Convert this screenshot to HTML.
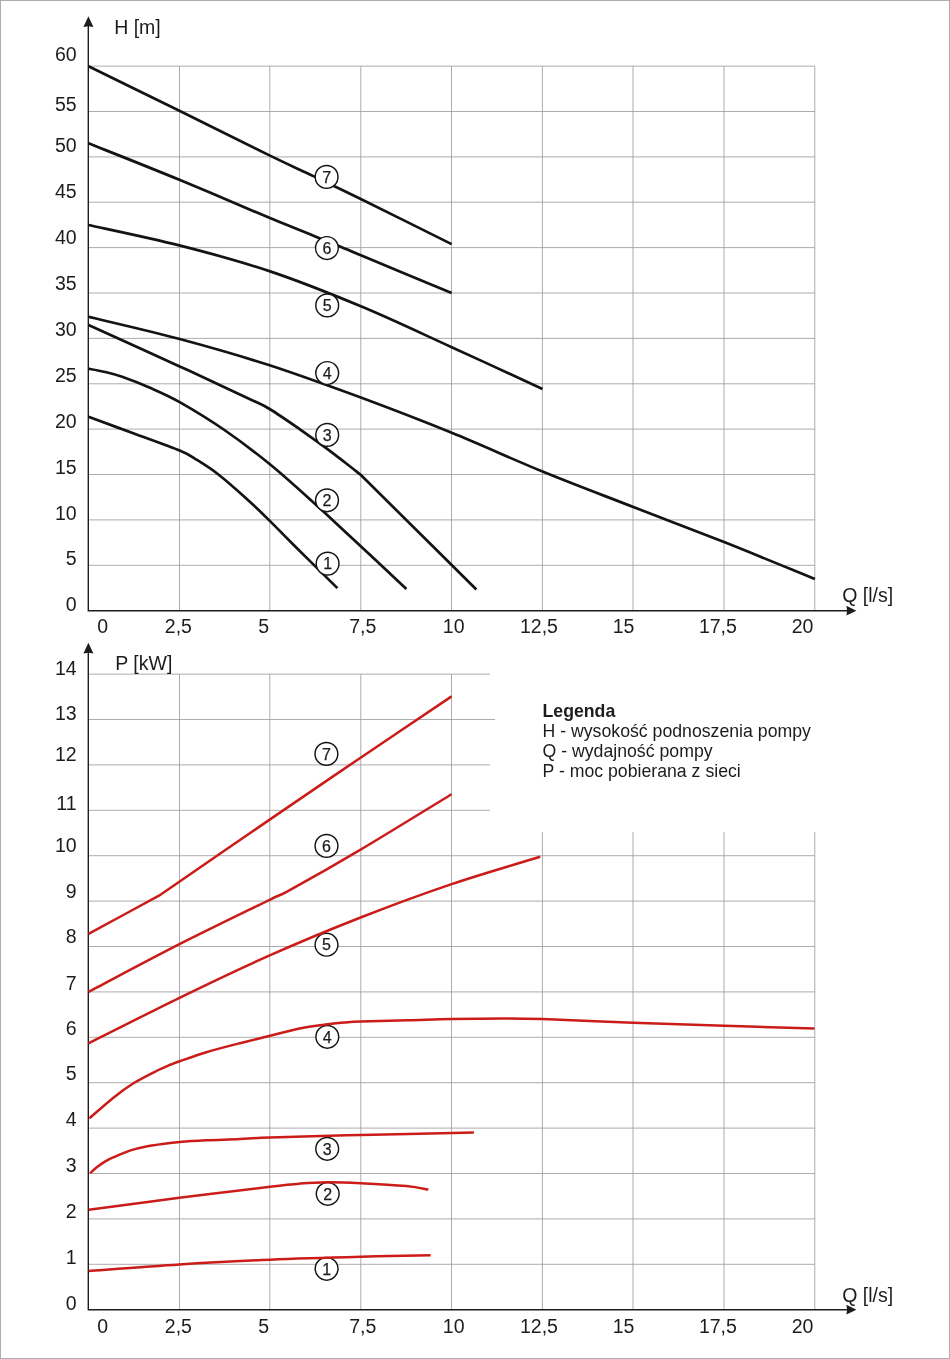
<!DOCTYPE html>
<html lang="pl">
<head>
<meta charset="utf-8">
<title>Charakterystyki pomp</title>
<style>
html,body{margin:0;padding:0;background:#fff;}
body{width:950px;height:1359px;overflow:hidden;}
svg{display:block;}
text{font-family:"Liberation Sans",Arial,Helvetica,sans-serif;fill:#1f1b1c;}
.g line{stroke:#9d9d9d;stroke-width:0.85;}
.ax{stroke:#1f1b1c;stroke-width:1.4;fill:none;}
.k{stroke:#161213;stroke-width:2.7;fill:none;stroke-linecap:butt;stroke-linejoin:round;}
.r{stroke:#cb1c19;stroke-width:2.5;fill:none;stroke-linecap:butt;stroke-linejoin:round;}
.c circle{fill:#fff;stroke:#161213;stroke-width:1.45;}
.c text{font-size:16px;text-anchor:middle;stroke:#1f1b1c;stroke-width:0.25;}
.t{font-size:19.5px;}
.m{text-anchor:middle;}
.e{text-anchor:end;}
.lg{font-size:17.7px;}
</style>
</head>
<body>
<svg width="950" height="1359" viewBox="0 0 950 1359">
<rect x="0" y="0" width="950" height="1359" fill="#fff"/>
<rect x="0.5" y="0.5" width="949" height="1358" fill="none" stroke="#adadad" stroke-width="1"/>
<g class="g">
<line x1="179.5" y1="66.1" x2="179.5" y2="610.7"/>
<line x1="269.8" y1="66.1" x2="269.8" y2="610.7"/>
<line x1="360.8" y1="66.1" x2="360.8" y2="610.7"/>
<line x1="451.5" y1="66.1" x2="451.5" y2="610.7"/>
<line x1="542.4" y1="66.1" x2="542.4" y2="610.7"/>
<line x1="633.0" y1="66.1" x2="633.0" y2="610.7"/>
<line x1="724.0" y1="66.1" x2="724.0" y2="610.7"/>
<line x1="814.8" y1="66.1" x2="814.8" y2="610.7"/>
<line x1="88.5" y1="66.1" x2="814.8" y2="66.1"/>
<line x1="88.5" y1="111.5" x2="814.8" y2="111.5"/>
<line x1="88.5" y1="156.9" x2="814.8" y2="156.9"/>
<line x1="88.5" y1="202.2" x2="814.8" y2="202.2"/>
<line x1="88.5" y1="247.6" x2="814.8" y2="247.6"/>
<line x1="88.5" y1="293.0" x2="814.8" y2="293.0"/>
<line x1="88.5" y1="338.4" x2="814.8" y2="338.4"/>
<line x1="88.5" y1="383.8" x2="814.8" y2="383.8"/>
<line x1="88.5" y1="429.1" x2="814.8" y2="429.1"/>
<line x1="88.5" y1="474.5" x2="814.8" y2="474.5"/>
<line x1="88.5" y1="519.9" x2="814.8" y2="519.9"/>
<line x1="88.5" y1="565.3" x2="814.8" y2="565.3"/>
</g>
<path class="ax" d="M88.3 24 V610.7 H850"/>
<path d="M88.4 16.3 L93.4 27.1 L88.4 26.3 L83.4 27.1 Z" fill="#1f1b1c"/>
<path d="M856.4 610.7 L846.4 605.8 L847.1 610.7 L846.4 615.6 Z" fill="#1f1b1c"/>
<path class="k" d="M88.5 66.2 C103.7 73.6 149.2 95.9 179.4 110.8 C209.7 125.7 247.6 144.7 270.0 155.6 C292.4 166.5 298.9 169.2 314.0 176.4 C329.1 183.6 337.9 187.7 360.8 199.0 C383.7 210.3 436.5 236.6 451.6 244.1"/>
<path class="k" d="M88.5 143.3 C103.7 149.4 149.2 167.3 179.4 179.8 C209.7 192.3 243.2 207.0 270.0 218.1 C296.8 229.2 324.9 240.2 340.0 246.4 C355.1 252.6 342.3 247.5 360.9 255.3 C379.5 263.1 436.5 286.7 451.6 293.0"/>
<path class="k" d="M88.5 225.0 C103.6 228.4 149.0 237.7 179.3 245.4 C209.6 253.1 239.8 261.2 270.1 271.4 C300.4 281.5 330.6 293.7 360.9 306.3 C391.2 318.9 421.4 333.4 451.7 347.2 C482.0 361.0 527.4 382.0 542.5 389.0"/>
<path class="k" d="M88.5 316.8 C103.7 320.5 149.5 330.9 179.7 339.0 C209.9 347.1 239.4 355.5 269.6 365.3 C299.8 375.1 330.5 386.4 360.9 397.6 C391.2 408.9 421.4 420.5 451.7 432.8 C482.0 445.1 512.2 459.1 542.5 471.5 C572.8 483.9 603.0 495.2 633.3 507.0 C663.6 518.8 693.8 530.1 724.1 542.1 C754.4 554.1 799.8 572.9 814.9 579.0"/>
<path class="k" d="M88.5 324.9 C103.7 331.8 152.8 354.0 179.7 366.4 C206.6 378.8 235.0 392.1 250.0 399.2 C265.0 406.3 261.3 404.0 269.6 409.0 C277.9 414.0 290.5 422.8 299.9 429.3 C309.3 435.8 318.3 442.4 325.8 447.9 C333.3 453.4 339.1 458.0 345.0 462.5 C350.9 467.0 358.2 472.9 360.9 475.0 C380.1 494.1 457.1 570.4 476.4 589.5"/>
<path class="k" d="M88.5 368.7 C91.3 369.2 99.7 370.6 105.3 372.0 C110.9 373.4 114.6 374.2 122.1 376.8 C129.5 379.4 140.4 383.6 150.0 387.8 C159.6 392.0 167.4 395.2 179.7 402.1 C192.0 409.1 208.7 419.2 223.7 429.5 C238.7 439.8 254.2 451.5 269.6 464.0 C285.0 476.5 302.5 492.6 315.9 504.7 C329.3 516.8 334.9 522.3 350.0 536.3 C365.1 550.3 397.0 580.1 406.4 588.9"/>
<path class="k" d="M88.5 416.8 C96.1 419.6 118.7 427.9 133.9 433.5 C149.1 439.1 169.1 446.1 179.7 450.5 C190.3 454.9 190.9 456.2 197.4 460.2 C203.9 464.2 210.2 468.1 218.4 474.5 C226.6 480.9 238.2 491.2 246.8 498.9 C255.4 506.6 262.1 513.3 269.8 520.9 C277.5 528.5 281.9 533.3 293.2 544.5 C304.5 555.7 330.0 580.8 337.4 588.1"/>
<g class="c">
<circle cx="326.6" cy="176.9" r="11.4"/><text x="326.6" y="182.6">7</text>
<circle cx="326.9" cy="248.0" r="11.4"/><text x="326.9" y="253.7">6</text>
<circle cx="327.2" cy="305.4" r="11.4"/><text x="327.2" y="311.1">5</text>
<circle cx="327.2" cy="373.0" r="11.4"/><text x="327.2" y="378.7">4</text>
<circle cx="327.2" cy="434.9" r="11.4"/><text x="327.2" y="440.6">3</text>
<circle cx="327.0" cy="500.3" r="11.4"/><text x="327.0" y="506.0">2</text>
<circle cx="327.6" cy="563.6" r="11.4"/><text x="327.6" y="569.3">1</text>
</g>
<g class="t e">
<text x="76.6" y="61">60</text>
<text x="76.6" y="111">55</text>
<text x="76.6" y="152">50</text>
<text x="76.6" y="198">45</text>
<text x="76.6" y="244">40</text>
<text x="76.6" y="290">35</text>
<text x="76.6" y="336">30</text>
<text x="76.6" y="382">25</text>
<text x="76.6" y="428">20</text>
<text x="76.6" y="474">15</text>
<text x="76.6" y="520">10</text>
<text x="76.6" y="565">5</text>
<text x="76.6" y="611">0</text>
</g>
<g class="t m">
<text x="102.6" y="633">0</text>
<text x="178.4" y="633">2,5</text>
<text x="263.7" y="633">5</text>
<text x="362.7" y="633">7,5</text>
<text x="453.7" y="633">10</text>
<text x="539.0" y="633">12,5</text>
<text x="623.5" y="633">15</text>
<text x="717.9" y="633">17,5</text>
<text x="802.5" y="633">20</text>
</g>
<text class="t" x="114.2" y="34">H [m]</text>
<text class="t" x="842.2" y="602">Q [l/s]</text>
<g class="g">
<line x1="179.5" y1="674.1" x2="179.5" y2="1309.7"/>
<line x1="269.8" y1="674.1" x2="269.8" y2="1309.7"/>
<line x1="360.8" y1="674.1" x2="360.8" y2="1309.7"/>
<line x1="451.5" y1="674.1" x2="451.5" y2="1309.7"/>
<line x1="542.4" y1="832.0" x2="542.4" y2="1309.7"/>
<line x1="633.0" y1="832.0" x2="633.0" y2="1309.7"/>
<line x1="724.0" y1="832.0" x2="724.0" y2="1309.7"/>
<line x1="814.8" y1="832.0" x2="814.8" y2="1309.7"/>
<line x1="88.5" y1="674.1" x2="490.0" y2="674.1"/>
<line x1="88.5" y1="719.5" x2="495.0" y2="719.5"/>
<line x1="88.5" y1="764.9" x2="490.0" y2="764.9"/>
<line x1="88.5" y1="810.3" x2="490.0" y2="810.3"/>
<line x1="88.5" y1="855.7" x2="814.8" y2="855.7"/>
<line x1="88.5" y1="901.1" x2="814.8" y2="901.1"/>
<line x1="88.5" y1="946.5" x2="814.8" y2="946.5"/>
<line x1="88.5" y1="991.9" x2="814.8" y2="991.9"/>
<line x1="88.5" y1="1037.3" x2="814.8" y2="1037.3"/>
<line x1="88.5" y1="1082.7" x2="814.8" y2="1082.7"/>
<line x1="88.5" y1="1128.1" x2="814.8" y2="1128.1"/>
<line x1="88.5" y1="1173.5" x2="814.8" y2="1173.5"/>
<line x1="88.5" y1="1218.9" x2="814.8" y2="1218.9"/>
<line x1="88.5" y1="1264.3" x2="814.8" y2="1264.3"/>
</g>
<path class="ax" d="M88.3 651 V1309.7 H850"/>
<path d="M88.4 642.8 L93.4 653.6 L88.4 652.8 L83.4 653.6 Z" fill="#1f1b1c"/>
<path d="M856.4 1309.7 L846.4 1304.8 L847.1 1309.7 L846.4 1314.6 Z" fill="#1f1b1c"/>
<g class="c">
<circle cx="326.4" cy="753.9" r="11.4"/><text x="326.4" y="759.6">7</text>
<circle cx="326.5" cy="845.9" r="11.4"/><text x="326.5" y="851.6">6</text>
<circle cx="326.5" cy="944.7" r="11.4"/><text x="326.5" y="950.4">5</text>
<circle cx="327.3" cy="1036.8" r="11.4"/><text x="327.3" y="1042.5">4</text>
<circle cx="327.2" cy="1148.8" r="11.4"/><text x="327.2" y="1154.5">3</text>
<circle cx="327.7" cy="1193.8" r="11.4"/><text x="327.7" y="1199.5">2</text>
<circle cx="326.6" cy="1268.8" r="11.4"/><text x="326.6" y="1274.5">1</text>
</g>
<path class="r" d="M88.5 933.9 C100.2 927.5 147.2 902.1 159.0 895.7 C177.4 883.0 236.1 842.6 269.7 819.6 C303.3 796.6 330.3 778.2 360.6 757.7 C390.9 737.2 436.4 706.6 451.6 696.4"/>
<path class="r" d="M88.5 991.9 C103.7 984.0 149.2 959.6 179.4 944.2 C209.6 928.9 251.2 908.9 269.7 899.8 C288.2 890.7 275.5 898.1 290.6 889.7 C305.8 881.3 333.8 865.5 360.6 849.6 C387.4 833.7 436.4 803.4 451.6 794.2"/>
<path class="r" d="M88.5 1043.4 C103.7 1035.8 149.3 1012.5 179.5 997.8 C209.7 983.1 239.5 968.8 269.7 955.4 C299.9 942.0 330.3 929.4 360.6 917.5 C390.9 905.6 421.7 894.2 451.6 884.1 C481.6 874.0 525.5 861.3 540.3 856.7"/>
<path class="r" d="M89.3 1118.4 C93.4 1114.9 106.3 1103.3 113.7 1097.4 C121.1 1091.5 126.9 1087.3 133.9 1083.0 C140.9 1078.7 149.6 1074.4 155.8 1071.3 C162.0 1068.2 168.4 1065.6 170.9 1064.5 C172.4 1064.0 173.8 1063.2 179.7 1061.2 C185.6 1059.2 196.2 1055.2 206.3 1052.2 C216.4 1049.2 229.4 1045.9 240.0 1043.2 C250.6 1040.5 259.8 1038.3 270.1 1035.8 C280.5 1033.2 292.6 1029.8 302.1 1027.9 C311.7 1026.0 320.4 1025.2 327.4 1024.3 C334.4 1023.4 338.7 1023.0 344.2 1022.6 C349.7 1022.2 350.1 1022.0 360.6 1021.6 C371.1 1021.2 392.2 1020.7 407.4 1020.3 C422.5 1019.9 435.9 1019.3 451.5 1019.0 C467.1 1018.7 485.8 1018.4 501.0 1018.4 C516.2 1018.4 520.5 1018.3 542.5 1019.0 C564.5 1019.7 603.0 1021.6 633.3 1022.7 C663.6 1023.8 693.9 1024.8 724.1 1025.8 C754.3 1026.8 799.4 1028.1 814.5 1028.6"/>
<path class="r" d="M90.1 1173.2 C91.2 1172.2 94.3 1169.3 96.8 1167.3 C99.3 1165.3 102.5 1163.1 105.3 1161.4 C108.1 1159.7 109.5 1159.0 113.7 1157.2 C117.9 1155.4 124.9 1152.2 130.5 1150.4 C136.1 1148.6 141.8 1147.3 147.4 1146.2 C153.0 1145.1 158.8 1144.4 164.2 1143.7 C169.6 1143.0 172.7 1142.6 179.7 1142.0 C186.7 1141.4 196.2 1140.8 206.3 1140.3 C216.4 1139.8 229.4 1139.5 240.0 1139.0 C250.6 1138.5 250.0 1138.2 270.1 1137.5 C290.2 1136.8 326.9 1135.8 360.9 1135.0 C394.9 1134.2 455.1 1132.8 473.9 1132.4"/>
<path class="r" d="M88.7 1209.8 C103.8 1207.8 149.1 1201.6 179.3 1197.8 C209.5 1194.0 250.0 1189.1 270.1 1186.7 C290.2 1184.3 290.4 1184.3 300.0 1183.6 C309.6 1182.9 317.2 1182.4 327.4 1182.3 C337.5 1182.2 347.8 1182.6 360.9 1183.2 C374.0 1183.8 395.1 1185.0 406.3 1186.1 C417.6 1187.2 424.7 1189.0 428.4 1189.6"/>
<path class="r" d="M88.7 1271.0 C103.8 1269.9 149.1 1266.3 179.3 1264.4 C209.5 1262.5 239.8 1261.0 270.1 1259.7 C300.4 1258.4 334.1 1257.5 360.9 1256.8 C387.6 1256.0 419.0 1255.5 430.6 1255.2"/>
<g class="t e">
<text x="76.6" y="675">14</text>
<text x="76.6" y="720">13</text>
<text x="76.6" y="761">12</text>
<text x="76.6" y="810">11</text>
<text x="76.6" y="852">10</text>
<text x="76.6" y="898">9</text>
<text x="76.6" y="943">8</text>
<text x="76.6" y="990">7</text>
<text x="76.6" y="1035">6</text>
<text x="76.6" y="1080">5</text>
<text x="76.6" y="1126">4</text>
<text x="76.6" y="1172">3</text>
<text x="76.6" y="1218">2</text>
<text x="76.6" y="1264">1</text>
<text x="76.6" y="1310">0</text>
</g>
<g class="t m">
<text x="102.6" y="1333">0</text>
<text x="178.4" y="1333">2,5</text>
<text x="263.7" y="1333">5</text>
<text x="362.7" y="1333">7,5</text>
<text x="453.7" y="1333">10</text>
<text x="539.0" y="1333">12,5</text>
<text x="623.5" y="1333">15</text>
<text x="717.9" y="1333">17,5</text>
<text x="802.5" y="1333">20</text>
</g>
<text class="t" x="115.3" y="670">P [kW]</text>
<text class="t" x="842.2" y="1302">Q [l/s]</text>
<g class="lg">
<text x="542.5" y="717" font-weight="bold">Legenda</text>
<text x="542.5" y="737">H - wysokość podnoszenia pompy</text>
<text x="542.5" y="757">Q - wydajność pompy</text>
<text x="542.5" y="777">P - moc pobierana z sieci</text>
</g>
</svg>
</body>
</html>
